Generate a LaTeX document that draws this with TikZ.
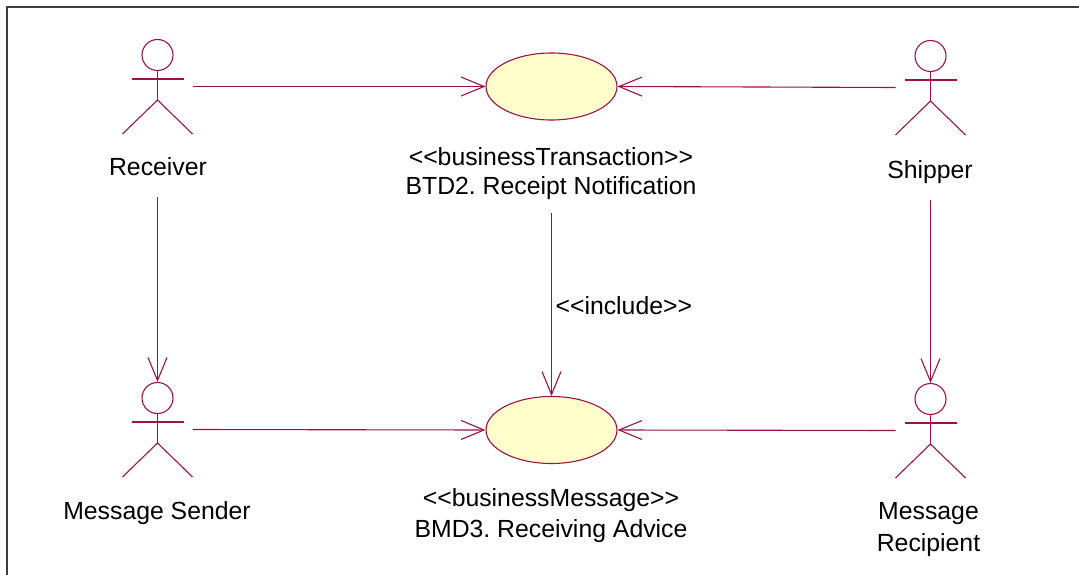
\documentclass[tikz,border=0pt]{standalone}
\usepackage{fontspec}
\setmainfont{Liberation Sans}[Ligatures=NoCommon]
\usetikzlibrary{shapes.geometric,arrows.meta}
\frenchspacing
\definecolor{umlred}{RGB}{160,16,72}
\definecolor{ucfill}{RGB}{255,255,204}
\definecolor{framegray}{RGB}{60,60,60}
\tikzset{
  umlline/.style={draw=umlred, line width=1.1pt},
  assoc/.style={umlline, -{Straight Barb[length=23pt,width=19pt]}},
  usecase/.style={ellipse, draw=umlred, line width=1.1pt, fill=ucfill, minimum width=131pt, minimum height=67pt, inner sep=0pt},
  lbl/.style={anchor=base, inner sep=0pt, font=\fontsize{24.8}{28}\selectfont},
  actor/.pic={
    \node[circle, draw=umlred, line width=1.1pt, minimum size=31pt, inner sep=0pt] (-head) at (0,0) {};
    \draw[umlline] (-26,24) -- (26,24);
    \draw[umlline] (0,15.5) -- (0,45);
    \draw[umlline] (-35,79) -- (0,45) -- (35,79);
    \coordinate (-east) at (35,31.5);
    \coordinate (-west) at (-35,31.5);
  }
}
\begin{document}
\begin{tikzpicture}[x=1pt,y=-1pt]
\useasboundingbox (0,0) rectangle (1079,575);
\draw[framegray, line width=2pt] (7,575) -- (7,7) -- (1079,7);

% actors
\pic (recv) at (157.5,55) {actor};
\pic (ship) at (930.5,56) {actor};
\pic (send) at (157.5,398) {actor};
\pic (rcpt) at (930.5,399) {actor};

\node[lbl] (recvlbl) at (158,175.5) {Receiver};
\node[lbl] (shiplbl) at (930,178.5) {Shipper};
\node[lbl] (sendlbl) at (157,519.5) {Message Sender};
\node[lbl] (rcptlbl1) at (928.5,519.5) {Message};
\node[lbl] (rcptlbl2) at (928.5,551.5) {Recipient};

% use cases
\node[usecase] (btd) at (551.5,86.5) {};
\node[usecase] (bmd) at (551.5,430) {};
\node[lbl] (btdlbl1) at (551,166) {<{}<businessTransaction>{}>};
\node[lbl] (btdlbl2) at (551,194.5) {BTD2. Receipt Notification};
\node[lbl] (bmdlbl1) at (551,506.5) {<{}<businessMessage>{}>};
\node[lbl] (bmdlbl2) at (551,537.5) {BMD3. Receiving Advice};

% connector tails below labels
\coordinate (recvtail) at (157.5,197);
\coordinate (shiptail) at (930.5,200);
\coordinate (btdtail) at (551.5,213);

% connectors
\draw[assoc] (recv-east) -- (btd.west);
\draw[assoc] (ship-west) -- (btd.east);
\draw[assoc] (recvtail) -- (send-head.north);
\draw[assoc] (shiptail) -- (rcpt-head.north);
\draw[assoc] (btdtail) -- node[lbl, anchor=base west, pos=0.5, xshift=3.5pt, yshift=-10pt] (inclbl) {<{}<include>{}>} (bmd.north);
\draw[assoc] (send-east) -- (bmd.west);
\draw[assoc] (rcpt-west) -- (bmd.east);
\end{tikzpicture}
\end{document}
